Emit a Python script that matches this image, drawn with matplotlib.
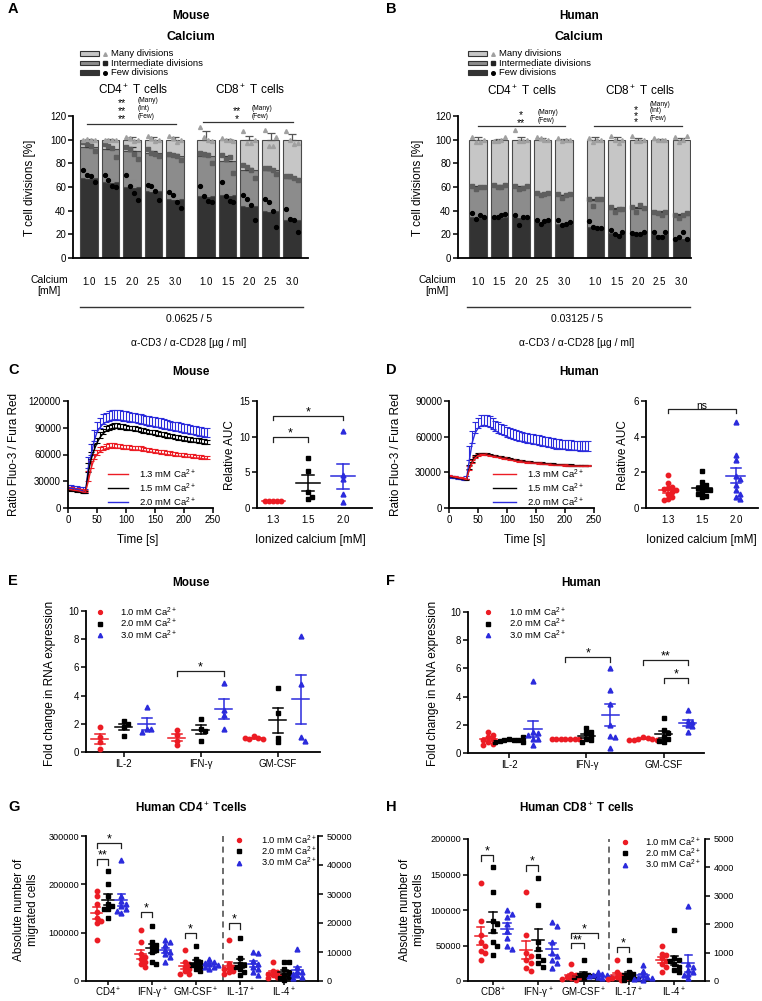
import numpy as np
import matplotlib
matplotlib.use("Agg")
import matplotlib.pyplot as plt
from matplotlib.patches import Rectangle

plt.rcParams['font.family'] = ['Liberation Sans', 'DejaVu Sans']
plt.rcParams['mathtext.fontset'] = 'custom'
plt.rcParams['mathtext.rm'] = 'Liberation Sans'
plt.rcParams['mathtext.it'] = 'Liberation Sans:italic'
plt.rcParams['mathtext.bf'] = 'Liberation Sans:bold'

W, H = 762, 1001
RED, BLK, BLU = '#ec1c24', '#000000', '#2b2bdc'

# ---------------- A / B : proliferation, stacked % (few / intermediate / many)
calcium = ['1.0', '1.5', '2.0', '2.5', '3.0']
bar_x = [0, 1, 2, 3, 4, 5.45, 6.45, 7.45, 8.45, 9.45]

mouse_few = [68, 64, 60, 57, 50, 52, 53, 44, 40, 32]
mouse_int = [26, 28, 30.5, 31.5, 36, 34, 29, 30, 34, 36]
mouse_many = [6, 8, 9.5, 11.5, 14, 14, 18, 26, 26, 32]
mouse_few_sem = [3, 2.5, 5.5, 3, 4, 4.5, 5, 5.5, 7, 5]
mouse_int_sem = [2.5, 2, 3.5, 2, 2, 3, 4, 2, 1.5, 0.5]
mouse_many_sem = [0.8, 0.5, 2, 2, 2.5, 7, 0.8, 3, 5.5, 4.5]
mouse_few_pts = [[74, 70, 69, 64], [70, 66, 61, 60], [70, 61, 55, 49], [62, 61, 57, 49], [56, 53, 47, 42],
                 [61, 52, 48, 47], [64, 52, 48, 47], [53, 50, 45, 32], [50, 47, 40, 26], [41, 33, 32, 22]]
mouse_int_pts = [[98, 96.5, 95, 90], [96, 95, 93, 85], [94, 92, 88, 84], [92, 89, 88, 86], [88, 87, 86, 83],
                 [89, 88, 87, 80], [87, 84, 85, 72], [79, 77, 74, 68], [76, 76, 74, 71], [69, 69, 68, 66]]
mouse_many_pts = [[100, 100.5, 99.5, 100], [100, 100, 99.5, 100], [102, 101, 99, 100], [103, 101, 99, 100],
                  [103, 101, 98, 100], [111, 102, 100, 99], [101, 100, 100, 99], [107, 97, 97, 100],
                  [108, 95, 95, 102], [107, 100, 96, 97]]

human_few = [35, 35, 35, 31, 29, 26, 21, 21, 20, 17]
human_int = [25, 26, 25, 23.5, 24, 23, 20, 21, 19, 19]
human_many = [40, 39, 40, 45.5, 47, 51, 59, 58, 61, 64]
human_few_sem = [2, 1, 1.5, 1, 1, 2, 1, 1, 1, 1]
human_int_sem = [1, 1, 1, 0.5, 0.5, 1, 1, 1.5, 1, 1]
human_many_sem = [2, 0.5, 2.5, 1, 0.5, 2, 2, 1.5, 0.8, 1]
human_few_pts = [[38, 33, 36, 35], [35, 35, 36, 37], [36, 28, 35, 35], [32, 29, 31, 32], [32, 28, 29, 30],
                 [31, 26, 25, 25], [24, 20, 19, 22], [21, 20, 20, 22], [22, 18, 18, 22], [16, 18, 22, 16]]
human_int_pts = [[61, 58, 60, 60], [62, 60, 60, 62], [61, 58, 59, 61], [55, 53, 54, 55], [54, 51, 53, 54],
                 [50, 44, 50, 50], [43, 39, 41, 41], [43, 39, 45, 42], [39, 38, 36, 39], [36, 34, 36, 38]]
human_many_pts = [[102, 98, 98, 100], [99, 99, 100, 102], [108, 99, 99, 100], [102, 101, 100, 100],
                  [101, 99, 100, 100], [101, 98, 100, 100], [103, 100, 97, 100], [103, 99, 99, 100],
                  [101, 100, 100, 100], [102, 98, 100, 103]]

# ---------------- C / D : calcium flux traces (every 5 s) and relative AUC
time_s = list(range(0, 245, 5))
c_red = [21000, 20500, 20000, 19500, 19000, 18000, 17500,
         30000, 45000, 55000, 60000, 63000, 65000, 66500,
         67500, 68000, 67500, 67000, 67000, 66500, 66000,
         66000, 65500, 65000, 65000, 64500, 64000, 63500,
         63000, 62500, 62000, 61500, 61000, 60500, 60000,
         59500, 59000, 58500, 58000, 58000, 57500, 57000,
         57000, 56500, 56000, 56000, 55500, 55000, 55000]
c_red_err = [3000, 3000, 2500, 2500, 2500, 3000, 3000,
             12000, 8000, 6000, 5000, 5000, 5000, 5000,
             5000, 5000, 5000, 4500, 4500, 4500, 4500,
             4500, 4500, 4500, 4500, 4500, 4500, 4000,
             4000, 4000, 4000, 4000, 4000, 4000, 4000,
             4000, 4000, 4000, 4000, 4000, 4000, 4000,
             4000, 4000, 3500, 3500, 3500, 3500, 3500]
c_blk = [20000, 19500, 19000, 18500, 18000, 17000, 16500,
         40000, 55000, 65000, 73000, 79000, 83000, 86000,
         88000, 89000, 89500, 89500, 89000, 88500, 88000,
         87500, 87000, 86500, 86000, 85000, 84500, 84000,
         83000, 82500, 82000, 81000, 80500, 80000, 79000,
         78500, 78000, 77000, 76500, 76000, 75500, 75000,
         74500, 74000, 73500, 73000, 72500, 72000, 71500]
c_blk_err = [3000, 3000, 2500, 2500, 2500, 3000, 3000,
             10000, 8000, 7000, 6000, 6000, 6000, 6000,
             5500, 5500, 5500, 5500, 5500, 5500, 5500,
             5000, 5000, 5000, 5000, 5000, 5000, 5000,
             5000, 5000, 5000, 5000, 5000, 5000, 5000,
             5000, 5000, 5000, 5000, 5000, 5000, 5000,
             5000, 5000, 5000, 5000, 5000, 5000, 5000]
c_blu = [22000, 22000, 21500, 21000, 20000, 19000, 17000,
         45000, 60000, 75000, 85000, 90000, 94000, 96000,
         97500, 98500, 99000, 99000, 98500, 98000, 97500,
         97000, 96500, 96000, 95000, 94500, 94000, 93000,
         92500, 92000, 91000, 90500, 90000, 89000, 88500,
         88000, 87000, 86500, 86000, 85000, 84500, 84000,
         83000, 82500, 82000, 81000, 80500, 80000, 79500]
c_blu_err = [4000, 4000, 3500, 3500, 3500, 4000, 4000,
             12000, 12000, 12000, 11000, 11000, 11000, 11000,
             11000, 11000, 11000, 11000, 11000, 11000, 11000,
             10500, 10500, 10500, 10500, 10500, 10500, 10500,
             10500, 10500, 10500, 10500, 10500, 10500, 10500,
             10000, 10000, 10000, 10000, 10000, 10000, 10000,
             10000, 10000, 10000, 10000, 10000, 10000, 10000]

d_red = [27000, 26500, 26000, 25500, 25000, 24500, 24000,
         32000, 38000, 42000, 44000, 45000, 45000, 44500,
         44000, 43500, 43000, 42500, 42000, 41500, 41000,
         40500, 40000, 39500, 39000, 38800, 38500, 38200,
         38000, 37800, 37500, 37300, 37000, 36800, 36600,
         36400, 36200, 36000, 35900, 35800, 35600, 35500,
         35400, 35300, 35200, 35100, 35000, 35000, 35000]
d_blk = [26500, 26000, 25500, 25000, 24500, 24000, 23500,
         33000, 39000, 43000, 45000, 45500, 45500, 45000,
         44500, 44000, 43500, 43000, 42500, 42000, 41500,
         41000, 40500, 40000, 39500, 39200, 38900, 38600,
         38300, 38000, 37800, 37600, 37400, 37200, 37000,
         36800, 36600, 36400, 36200, 36000, 35800, 35700,
         35600, 35500, 35400, 35300, 35200, 35100, 35000]
d_small_err = [800, 800, 800, 800, 800, 800, 800,
               3000, 2000, 1500, 1200, 1000, 1000, 1000,
               1000, 1000, 1000, 1000, 1000, 1000, 1000,
               1000, 1000, 1000, 1000, 1000, 1000, 1000,
               1000, 1000, 1000, 1000, 1000, 1000, 1000,
               1000, 1000, 1000, 1000, 1000, 1000, 1000,
               1000, 1000, 1000, 1000, 1000, 1000, 1000]
d_blu = [26000, 25500, 25000, 24500, 24000, 23500, 24000,
         40000, 55000, 63000, 67000, 69000, 69500, 69000,
         68000, 66500, 65000, 63500, 62000, 61000, 60000,
         59000, 58000, 57000, 56500, 56000, 55500, 55000,
         54500, 54000, 53500, 53000, 52500, 52000, 51500,
         51000, 50500, 50000, 50000, 49500, 49500, 49000,
         49000, 48500, 48500, 48000, 48000, 48000, 48000]
d_blu_err = [1500, 1500, 1500, 1500, 1500, 1500, 3000,
             12000, 10000, 9500, 9000, 9000, 9000, 9000,
             9000, 9000, 8500, 8500, 8500, 8500, 8500,
             8500, 8500, 8500, 8000, 8000, 8000, 8000,
             8000, 8000, 8000, 8000, 8000, 8000, 8000,
             8000, 8000, 8000, 8000, 8000, 8000, 8000,
             8000, 8000, 8000, 8000, 8000, 8000, 8000]

auc_labels = ['1.3', '1.5', '2.0']
c_auc = [[1.0, 1.0, 1.0, 1.0, 1.0],
         [7.0, 5.2, 2.3, 1.3, 1.5],
         [10.8, 4.6, 4.0, 1.9, 0.9]]
d_auc = [[1.85, 1.4, 1.2, 1.1, 1.05, 1.0, 0.9, 0.8, 0.6, 0.5, 0.45],
         [2.1, 1.45, 1.3, 1.2, 1.1, 1.0, 1.0, 0.9, 0.8, 0.7, 0.6],
         [4.8, 3.0, 2.7, 1.8, 1.6, 1.3, 1.0, 0.8, 0.6, 0.5]]

# ---------------- E / F : fold change in RNA expression (red 1.0, black 2.0, blue 3.0 mM)
rna_labels = ['IL-2', 'IFN-γ', 'GM-CSF']
e_il2 = [[1.8, 1.05, 0.7, 0.2], [2.2, 2.0, 1.8, 1.15], [3.2, 1.65, 1.6, 1.45]]
e_ifng = [[1.55, 1.2, 0.8, 0.5], [2.35, 1.6, 1.5, 0.8], [4.9, 3.0, 2.65, 1.65]]
e_gmcsf = [[1.1, 1.0, 0.95, 0.9, 1.0], [4.55, 2.8, 1.0, 0.7], [8.2, 4.85, 1.05, 0.8]]
f_il2 = [[1.5, 1.3, 1.1, 1.0, 0.9, 0.75, 0.65, 0.6], [1.0, 0.95, 0.9, 0.9, 0.85, 0.8, 0.75, 1.1],
         [5.1, 1.5, 1.4, 1.3, 1.0, 0.6, 1.0]]
f_ifng = [[1.02, 1.0, 0.98, 1.0, 1.0, 1.01, 0.99], [1.75, 1.5, 1.4, 1.2, 1.0, 0.9, 0.8],
          [6.0, 4.5, 3.5, 2.0, 1.2, 1.1, 0.35]]
f_gmcsf = [[1.15, 1.05, 1.0, 1.0, 0.95, 0.9, 0.95], [2.5, 1.6, 1.4, 1.1, 1.0, 0.85, 0.8],
           [3.05, 2.3, 2.2, 2.0, 1.9, 1.5]]

# ---------------- G / H : migrated cells (IL-17+ and IL-4+ on right axis)
g_labels = ['CD4$^+$', 'IFN-γ$^+$', 'GM-CSF$^+$', 'IL-17$^+$', 'IL-4$^+$']
g_cd4 = [[187000, 175000, 160000, 143000, 130000, 125000, 120000, 85000],
         [228000, 200000, 175000, 160000, 155000, 150000, 148000, 130000],
         [250000, 175000, 165000, 160000, 155000, 150000, 140000, 145000]]
g_ifng = [[105000, 80000, 55000, 50000, 45000, 40000, 35000, 30000],
          [113000, 80000, 75000, 70000, 65000, 60000, 40000, 35000],
          [85000, 80000, 75000, 65000, 60000, 55000, 50000, 40000]]
g_gmcsf = [[65000, 40000, 35000, 30000, 25000, 20000, 15000, 15000],
           [73000, 45000, 40000, 35000, 33000, 30000, 25000, 20000],
           [45000, 40000, 38000, 35000, 33000, 30000, 28000, 25000]]
g_il17 = [[14000, 6000, 5000, 4500, 4000, 3500, 3000, 2500],
          [15000, 8000, 6000, 5500, 5000, 4000, 3000, 2000],
          [10000, 9500, 7000, 6000, 5000, 4000, 3000, 2000]]
g_il4 = [[6500, 3500, 3000, 2500, 2000, 1800, 1500, 1000],
         [6500, 6500, 4000, 3000, 2000, 1500, 1000, 500],
         [11000, 5000, 3500, 3000, 2500, 2000, 1500, 1000]]

h_labels = ['CD8$^+$', 'IFN-γ$^+$', 'GM-CSF$^+$', 'IL-17$^+$', 'IL-4$^+$']
h_cd8 = [[138000, 85000, 65000, 55000, 50000, 42000, 40000, 30000],
         [160000, 125000, 85000, 80000, 70000, 55000, 50000, 37000],
         [100000, 95000, 90000, 80000, 70000, 60000, 50000, 45000]]
h_ifng = [[125000, 65000, 40000, 35000, 30000, 25000, 18000, 14000],
          [145000, 107000, 55000, 45000, 35000, 30000, 25000, 20000],
          [83000, 78000, 55000, 40000, 35000, 30000, 25000, 18000]]
h_gmcsf = [[24000, 10000, 8000, 6000, 5000, 4000, 3000, 2000],
           [29000, 10000, 9000, 8000, 7000, 6000, 5000, 4000],
           [12000, 10000, 9000, 8000, 7000, 6000, 5000, 4000]]
h_il17 = [[730, 300, 200, 150, 100, 100, 80, 50],
          [730, 300, 250, 200, 150, 100, 80, 50],
          [550, 350, 200, 150, 120, 100, 80, 50]]
h_il4 = [[1230, 950, 900, 800, 700, 600, 500, 300],
         [1800, 800, 750, 700, 600, 500, 400, 300],
         [2650, 600, 500, 400, 300, 250, 200, 100]]

conc3 = ['1.0 mM Ca$^{2+}$', '2.0 mM Ca$^{2+}$', '3.0 mM Ca$^{2+}$']
conc_flux = ['1.3 mM Ca$^{2+}$', '1.5 mM Ca$^{2+}$', '2.0 mM Ca$^{2+}$']

# ======================================================================
fig = plt.figure(figsize=(7.62, 10.01), dpi=100)

ov = fig.add_axes([0, 0, 1, 1])
ov.set_xlim(0, W)
ov.set_ylim(H, 0)
ov.axis('off')
ov.patch.set_visible(False)
ov.set_zorder(10)


def T(x, y, s, size=7, ha='center', va='center', **kw):
    ov.text(x, y, s, fontsize=size, ha=ha, va=va, **kw)


def box(x0, y0, x1, y1):
    ax = fig.add_axes([x0 / W, 1 - y1 / H, (x1 - x0) / W, (y1 - y0) / H])
    ax.set_facecolor('none')
    return ax


def prism(ax, keep_right=False):
    ax.spines['top'].set_visible(False)
    ax.spines['right'].set_visible(keep_right)
    for s in ('left', 'bottom', 'right'):
        ax.spines[s].set_linewidth(1.3)
    ax.tick_params(direction='out', length=3.5, width=1.1, labelsize=7, pad=1.5)


def swarm(vals, dx, dy):
    placed, offs = [], []
    for v in vals:
        for k in (0, 1, -1, 2, -2, 3, -3, 4, -4, 5, -5):
            o = k * dx
            if all(abs(o - po) >= dx * 0.999 or abs(v - pv) >= dy for po, pv in placed):
                break
        placed.append((o, v))
        offs.append(o)
    return np.array(offs)


STY = [(RED, 'o', 3.2), (BLK, 's', 3.0), (BLU, '^', 3.5)]


def dots(ax, x, vals, sty, dx, dy, hw, cw, lw=1.1):
    color, mk, ms = sty
    v = np.asarray(vals, dtype=float)
    ax.plot(x + swarm(v, dx, dy), v, ls='none', marker=mk, ms=ms, color=color, zorder=3, clip_on=False)
    m = v.mean()
    s = v.std(ddof=1) / np.sqrt(len(v))
    ax.plot([x - hw, x + hw], [m, m], color=color, lw=lw, zorder=4)
    ax.plot([x, x], [m - s, m + s], color=color, lw=lw, zorder=4)
    for e in (m - s, m + s):
        ax.plot([x - cw, x + cw], [e, e], color=color, lw=lw, zorder=4)


def bracket(ax, x1, x2, y, tip, label, fs=9):
    ax.plot([x1, x1, x2, x2], [tip, y, y, tip], color='#222222', lw=0.9, clip_on=False)
    ax.annotate(label, ((x1 + x2) / 2, y), xytext=(0, 0.3), textcoords='offset points',
                ha='center', va='baseline', fontsize=fs)


# ---------------- A / B
SPREAD = [-0.27, -0.09, 0.09, 0.27]


def stacked(ax, few, mid, many, sems, pts, xlim):
    xs = np.array(bar_x)
    few, mid, many = (np.asarray(a, dtype=float) for a in (few, mid, many))
    bottoms = [np.zeros_like(few), few, few + mid]
    heights = [few, mid, many]
    face = ['#333333', '#8c8c8c', '#c6c6c6']
    ecol = ['#8a8a8a', '#333333', '#555555']
    pcol = ['#000000', '#5e5e5e', '#a0a0a0']
    mks = ['o', 's', '^']
    for k in range(3):
        ax.bar(xs, heights[k], 0.8, bottom=bottoms[k], color=face[k], edgecolor='#4a4a4a',
               linewidth=0.8, zorder=2)
        ax.errorbar(xs, bottoms[k] + heights[k], yerr=[np.zeros(len(xs)), sems[k]], fmt='none',
                    ecolor=ecol[k], elinewidth=0.9, capsize=3, capthick=0.9, zorder=3)
    for k in range(3):
        for x, vals in zip(xs, pts[k]):
            ax.plot(x + np.array(SPREAD[:len(vals)]), vals, ls='none', marker=mks[k], ms=2.8,
                    color=pcol[k], zorder=4, clip_on=False)
    prism(ax)
    ax.set_xlim(xlim)
    ax.set_ylim(0, 120)
    ax.set_yticks(range(0, 121, 20))
    ax.set_xticks(xs)
    ax.set_xticklabels(calcium * 2)
    ax.tick_params(axis='x', length=0, pad=14)


axa = box(73, 116, 308, 258)
stacked(axa, mouse_few, mouse_int, mouse_many, [mouse_few_sem, mouse_int_sem, mouse_many_sem],
        [mouse_few_pts, mouse_int_pts, mouse_many_pts], (-0.74, 10.19))
axb = box(458, 116, 691, 258)
stacked(axb, human_few, human_int, human_many, [human_few_sem, human_int_sem, human_many_sem],
        [human_few_pts, human_int_pts, human_many_pts], (-0.93, 9.91))

for dx, head, conc in ((0, 'Mouse', '0.0625 / 5'), (388, 'Human', '0.03125 / 5')):
    T(191 + dx, 16, head, size=8.5, weight='bold')
    T(191 + dx, 37, 'Calcium', size=9, weight='bold')
    for i, (lab, fc, mk, mc) in enumerate((('Many divisions', '#c6c6c6', '^', '#a0a0a0'),
                                           ('Intermediate divisions', '#8c8c8c', 's', '#222222'),
                                           ('Few divisions', '#333333', 'o', '#000000'))):
        y = 53.5 + i * 9.6
        bx = 80 + dx
        ov.add_patch(Rectangle((bx, y - 2.3), 19, 4.6, facecolor=fc, edgecolor='#333333', lw=0.8))
        ov.plot(bx + 25, y, marker=mk, ms=2.6, color=mc)
        T(bx + 31, y, lab, size=6.8, ha='left')
    T(51 + dx - 2, 280, 'Calcium', size=7.5)
    T(51 + dx - 2, 291, '[mM]', size=7.5)
    T(192 + dx - 3, 319, conc, size=7.5)
    T(192 + dx - 3, 343, 'α-CD3 / α-CD28 [µg / ml]', size=7.5)
    T(33 + dx - 3, 188, 'T cell divisions [%]', size=8.5, rotation=90)

ov.plot([80, 303], [307, 307], color='#333333', lw=1)
ov.plot([467, 690], [307, 307], color='#333333', lw=1)

T(8, 9, 'A', size=10.5, weight='bold', ha='left')
T(386, 9, 'B', size=10.5, weight='bold', ha='left')
T(133, 90, 'CD4$^+$ T cells', size=8.5)
T(250, 90, 'CD8$^+$ T cells', size=8.5)
T(522, 91, 'CD4$^+$ T cells', size=8.5)
T(640, 91, 'CD8$^+$ T cells', size=8.5)

# significance marks of A / B
for x, y, s in ((122, 101, '**'), (122, 109, '**'), (122, 117, '**'), (237, 109, '**'), (237, 117, '*'),
                (521, 113, '*'), (521, 121, '**')):
    T(x, y + 5, s, size=7.5, va='baseline')
T(636, 116, '*\n*\n*', size=7.5, linespacing=0.55)
for x, y, s in ((138, 100, '(Many)'), (138, 108, '(Int)'), (138, 116, '(Few)'),
                (252, 108, '(Many)'), (252, 116, '(Few)'),
                (538, 112, '(Many)'), (538, 120, '(Few)'),
                (650, 104, '(Many)'), (650, 111, '(Int)'), (650, 119, '(Few)')):
    T(x, y, s, size=4.8, ha='left')
for x0, x1, y in ((87, 176, 124), (203, 293, 122), (478, 565, 126), (594, 682, 126)):
    ov.plot([x0, x1], [y, y], color='#333333', lw=0.9)

# ---------------- C / D
def flux(ax, series, ymax, ystep):
    for y, e, c in series:
        ax.errorbar(time_s, y, yerr=[np.zeros(len(y)), e], color=c, lw=1.0, elinewidth=0.8,
                    capsize=2, capthick=0.8, zorder=2)
    prism(ax)
    ax.set_xlim(0, 250)
    ax.set_xticks(range(0, 251, 50))
    ax.set_ylim(0, ymax)
    ax.set_yticks(range(0, ymax + 1, ystep))


axcl = box(68, 401, 213, 508)
flux(axcl, [(c_blu, c_blu_err, BLU), (c_blk, c_blk_err, BLK), (c_red, c_red_err, RED)], 120000, 30000)
axdl = box(449, 401, 594, 508)
flux(axdl, [(d_blu, d_blu_err, BLU), (d_blk, d_small_err, BLK), (d_red, d_small_err, RED)], 90000, 30000)


def auc(ax, groups, ymax, ystep, xlim, dy, hw, cw):
    for i, vals in enumerate(groups):
        dots(ax, i, vals, STY[i], 0.12, dy, hw, cw)
    prism(ax)
    ax.set_xlim(xlim)
    ax.set_ylim(0, ymax)
    ax.set_yticks(range(0, ymax + 1, ystep))
    ax.set_xticks(range(3))
    ax.set_xticklabels(auc_labels)
    ax.tick_params(axis='x', length=0, pad=5)


axcr = box(257, 401, 372, 508)
auc(axcr, c_auc, 15, 5, (-0.46, 2.83), 0.56, 0.33, 0.17)
bracket(axcr, 0, 1, 9.95, 9.25, '*')
bracket(axcr, 0, 2, 12.9, 12.3, '*')
axdr = box(646, 401, 758, 508)
auc(axdr, d_auc, 6, 2, (-0.65, 2.65), 0.22, 0.28, 0.15)
bracket(axdr, 0, 2, 5.55, 5.3, 'ns', fs=7.5)

for dx, head in ((0, 'Mouse'), (388, 'Human')):
    T(191 + dx, 372, head, size=8.5, weight='bold')
    for i, (lab, c) in enumerate(zip(conc_flux, (RED, BLK, BLU))):
        y = 474 + i * 14
        ov.plot([108 + dx - 3 * (dx > 0), 128 + dx], [y, y], color=c, lw=1.0)
        T(139 + dx, y, lab, size=6.8, ha='left')
T(8, 370, 'C', size=10.5, weight='bold', ha='left')
T(386, 370, 'D', size=10.5, weight='bold', ha='left')
T(14, 455, 'Ratio Fluo-3 / Fura Red', size=8.5, rotation=90)
T(396, 455, 'Ratio Fluo-3 / Fura Red', size=8.5, rotation=90)
T(230, 455, 'Relative AUC', size=8.5, rotation=90)
T(623, 455, 'Relative AUC', size=8.5, rotation=90)
T(138, 540, 'Time [s]', size=8.5)
T(525, 540, 'Time [s]', size=8.5)
T(310, 540, 'Ionized calcium [mM]', size=8.5)
T(701, 540, 'Ionized calcium [mM]', size=8.5)

# ---------------- E / F
def rna(ax, groups, offs, xlim):
    for ci, grp in enumerate(groups):
        for si, vals in enumerate(grp):
            dots(ax, ci + offs[si], vals, STY[si], 0.06, 0.28, 0.11, 0.065)
    prism(ax)
    ax.set_xlim(xlim)
    ax.set_ylim(0, 10)
    ax.set_yticks(range(0, 11, 2))
    ax.set_xticks(range(3))
    ax.set_xticklabels(rna_labels)


axe = box(86, 611, 320, 752)
rna(axe, [e_il2, e_ifng, e_gmcsf], (-0.31, 0, 0.3), (-0.49, 2.55))
bracket(axe, 1 - 0.31, 1.3, 5.74, 5.4, '*')
axf = box(468, 612, 704, 753)
rna(axf, [f_il2, f_ifng, f_gmcsf], (-0.27, 0, 0.31), (-0.53, 2.52))
bracket(axf, 1 - 0.27, 1.31, 6.8, 6.45, '*')
bracket(axf, 2 - 0.27, 2.31, 6.6, 6.25, '**')
bracket(axf, 2, 2.31, 5.3, 4.95, '*')

for dx, head, mx, tx in ((0, 'Mouse', 100, 120), (390, 'Human', 106, 128)):
    T(191 + dx, 583, head, size=8.5, weight='bold')
    for i, (lab, sty) in enumerate(zip(conc3, STY)):
        y = 612 + i * 11.7
        ov.plot(mx + dx - 8 * (dx > 0), y, marker=sty[1], ms=sty[2] - 0.4, color=sty[0])
        T(tx + dx - 9 * (dx > 0), y, lab, size=6.8, ha='left')
T(8, 581, 'E', size=10.5, weight='bold', ha='left')
T(386, 581, 'F', size=10.5, weight='bold', ha='left')
T(50, 683, 'Fold change in RNA expression', size=8.5, rotation=90)
T(433, 683, 'Fold change in RNA expression', size=8.5, rotation=90)

# ---------------- G / H
def migration(ax, left_groups, right_groups, labels, lmax, lstep, rmax, rstep, xlim, dash_x, offs):
    ax2 = ax.twinx()
    for ci, grp in enumerate(left_groups):
        for si, vals in enumerate(grp):
            dots(ax, ci + offs[si], vals, STY[si], 0.1, lmax / 36, 0.13, 0.08)
    for cj, grp in enumerate(right_groups):
        for si, vals in enumerate(grp):
            dots(ax2, len(left_groups) + cj + offs[si], vals, STY[si], 0.1, rmax / 36, 0.13, 0.08)
    prism(ax)
    prism(ax2, keep_right=True)
    ax2.spines['left'].set_visible(False)
    ax2.spines['bottom'].set_visible(False)
    ax.set_xlim(xlim)
    ax.set_ylim(0, lmax)
    ax.set_yticks(range(0, lmax + 1, lstep))
    ax2.set_ylim(0, rmax)
    ax2.set_yticks(range(0, rmax + 1, rstep))
    ax.set_xticks(range(5))
    ax.set_xticklabels(labels)
    ax.tick_params(labelsize=6.6)
    ax2.tick_params(labelsize=6.6, pad=2.5)
    ax.tick_params(axis='x', labelsize=7, length=3, pad=0.5)
    ax.axvline(dash_x, color='#444444', lw=1.1, ls=(0, (4, 3)), zorder=1)
    return ax2


axg = box(86, 836, 318, 981)
migration(axg, [g_cd4, g_ifng, g_gmcsf], [g_il17, g_il4], g_labels, 300000, 100000, 50000, 10000,
          (-0.5, 4.77), 2.62, (-0.26, 0, 0.3))
bracket(axg, -0.26, 0, 252000, 240000, '**')
bracket(axg, -0.26, 0.3, 285000, 275000, '*')
bracket(axg, 1 - 0.26, 1, 143000, 132000, '*')
bracket(axg, 2 - 0.26, 2, 99000, 89000, '*')
bracket(axg, 3 - 0.26, 3, 120000, 108000, '*')

axh = box(468, 839, 705, 981)
migration(axh, [h_cd8, h_ifng, h_gmcsf], [h_il17, h_il4], h_labels, 200000, 50000, 5000, 1000,
          (-0.55, 4.68), 2.56, (-0.27, 0, 0.31))
bracket(axh, -0.27, 0, 177000, 169000, '*')
bracket(axh, 1 - 0.27, 1, 163000, 155000, '*')
bracket(axh, 2 - 0.27, 2.31, 68000, 61000, '*')
bracket(axh, 2 - 0.27, 2, 53000, 46000, '**')
bracket(axh, 3 - 0.27, 3, 48000, 41000, '*')

for dx, head, mx, tx, y0 in ((0, 'Human CD4$^+$ Tcells', 239, 261, 840), (386, 'Human CD8$^+$ T cells', 239, 259, 842)):
    T(191 + dx, 808, head, size=8.5, weight='bold')
    for i, (lab, sty) in enumerate(zip(conc3, STY)):
        y = y0 + i * 11.3
        ov.plot(mx + dx, y, marker=sty[1], ms=sty[2] - 0.3, color=sty[0])
        T(tx + dx, y, lab, size=6.7, ha='left')
    T(26 + dx, 910, 'Absolute number of\nmigrated cells', size=8.5, rotation=90, linespacing=1.15)
T(8, 807, 'G', size=10.5, weight='bold', ha='left')
T(386, 807, 'H', size=10.5, weight='bold', ha='left')

fig.savefig('out.png', dpi=100)
